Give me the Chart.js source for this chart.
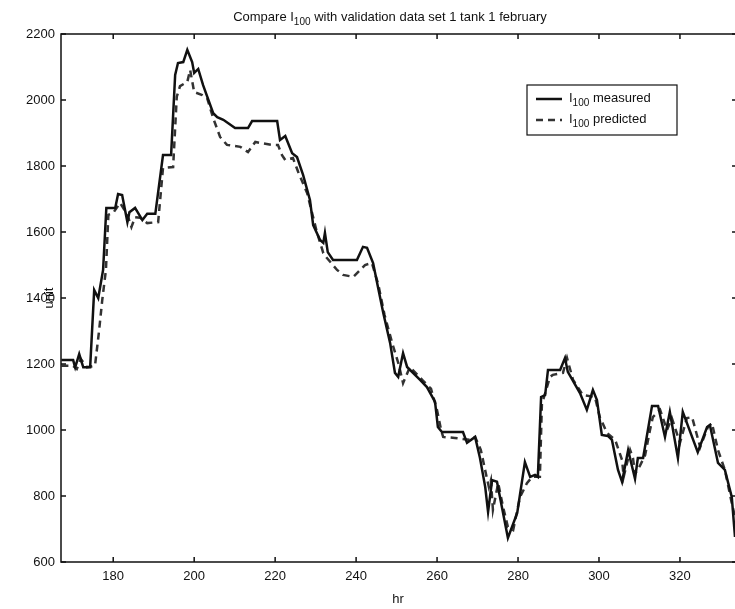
<!DOCTYPE html>
<html lang="en">
<head>
<meta charset="UTF-8" />
<title>Compare I100 with validation data</title>
<script src="https://cdn.jsdelivr.net/npm/chart.js"></script>
<style>
  body {
    margin: 0;
    background: #fff;
    overflow: hidden;
  }
  .wrap {
    position: relative;
    width: 735px;
    height: 609px;
  }
</style>
</head>
<body>
<div class="wrap"><canvas id="chart"></canvas></div>
<script>
// values (hr, unit)
const hrMeasured = [167.2,170.1,170.6,171.6,172.6,174.3,175.3,176.3,177.5,178.3,
  180.5,181.2,182.2,183.5,184.0,185.4,187.2,188.4,190.4,192.3,
  194.3,195.3,196.0,197.3,198.3,199.5,200.0,201.0,202.2,204.7,
  205.7,207.2,210.1,213.3,214.3,220.5,221.2,222.5,224.2,225.4,
  226.9,228.6,229.4,231.1,231.9,232.3,233.0,234.3,240.2,241.7,
  242.7,244.2,245.4,246.7,248.4,249.6,250.4,251.6,252.6,255.8,
  257.5,259.5,260.2,261.2,266.4,267.4,269.4,270.6,271.9,272.6,
  273.6,274.8,277.5,279.8,281.7,283.0,284.2,284.9,285.7,286.7,
  287.4,290.4,291.6,292.3,295.3,297.0,298.5,299.5,300.7,302.2,
  303.2,304.7,305.7,307.2,308.9,309.6,310.9,313.1,314.6,316.3,
  317.5,319.5,320.7,324.4,326.7,327.4,329.4,331.1,332.8,333.6];
const measured = [1212,1212,1190,1230,1190,1190,1424,1400,1485,1673,
  1673,1715,1712,1630,1660,1673,1636,1655,1655,1833,
  1833,2076,2112,2115,2152,2115,2082,2094,2045,1960,
  1948,1940,1915,1915,1936,1936,1879,1891,1839,1827,
  1773,1697,1621,1576,1567,1597,1539,1515,1515,1555,
  1552,1506,1433,1355,1264,1173,1161,1233,1191,1152,
  1130,1085,1009,994,994,961,979,915,827,752,
  848,843,673,749,903,858,864,858,1100,1106,
  1182,1182,1218,1176,1112,1061,1121,1091,985,982,
  970,879,843,939,852,915,915,1073,1073,979,
  1055,915,1055,933,1009,1015,900,879,797,676];

const hrPredicted = [167.2,170.0,171.0,172.0,173.5,175.5,176.5,177.3,178.2,178.8,
  180.0,181.7,183.5,184.5,185.4,186.7,188.4,191.1,192.3,194.8,
  195.7,196.5,198.3,199.0,200.0,202.0,203.2,204.7,206.4,208.1,
  211.4,213.3,215.1,216.3,219.3,220.7,221.7,222.5,224.4,225.7,
  227.9,230.3,231.9,232.6,235.3,236.8,239.3,241.0,242.2,243.9,
  245.5,247.0,249.0,250.5,251.6,253.3,256.5,258.5,260.0,261.0,
  261.5,264.4,268.1,269.4,270.8,272.2,272.8,273.3,273.8,275.1,
  276.3,277.5,278.8,280.5,282.2,283.5,285.4,285.9,287.9,288.6,
  291.1,292.1,293.6,296.0,299.0,300.2,302.0,304.0,305.7,306.1,
  307.7,308.4,308.9,310.1,311.4,312.6,313.3,315.1,316.8,318.0,
  320.0,321.7,323.0,325.0,326.9,327.9,329.4,331.1,332.8,333.6];
const predicted = [1195,1195,1185,1215,1190,1195,1300,1395,1485,1652,
  1658,1688,1652,1615,1645,1643,1627,1630,1794,1797,
  2010,2042,2055,2091,2024,2015,2006,1945,1888,1864,
  1858,1842,1873,1870,1864,1864,1833,1818,1824,1782,
  1718,1600,1536,1524,1485,1470,1464,1485,1500,1506,
  1440,1350,1260,1200,1142,1191,1150,1125,1060,1000,
  979,976,970,979,940,860,827,848,758,839,
  767,706,697,797,839,858,858,1079,1161,1167,
  1173,1218,1152,1106,1100,1039,991,970,909,858,
  939,915,867,891,924,1000,1039,1061,1000,1036,
  961,1036,1039,948,1009,1021,939,879,779,736];

const xTicks = [180, 200, 220, 240, 260, 280, 300, 320];
const yTicks = [600, 800, 1000, 1200, 1400, 1600, 1800, 2000, 2200];

const FONT = '"Liberation Sans", Arial, sans-serif';
const INK = '#111';

// text with a lowered small "100"
function drawRich(ctx, parts, x, y, align) {
  const big = '13px ' + FONT, small = '10px ' + FONT;
  let w = 0;
  parts.forEach(p => { ctx.font = p.sub ? small : big; w += ctx.measureText(p.t).width; });
  let cx = align === 'center' ? x - w / 2 : x;
  ctx.textAlign = 'left';
  ctx.textBaseline = 'alphabetic';
  parts.forEach(p => {
    ctx.font = p.sub ? small : big;
    ctx.fillText(p.t, cx, p.sub ? y + 4 : y);
    cx += ctx.measureText(p.t).width;
  });
}

const decorPlugin = {
  id: 'decor',
  afterDraw(chart) {
    const { ctx, chartArea: a, scales: { x, y } } = chart;
    ctx.save();
    ctx.strokeStyle = INK;
    ctx.fillStyle = INK;
    ctx.lineWidth = 1.5;

    // box (right side runs off the picture)
    ctx.beginPath();
    ctx.moveTo(a.right, a.top); ctx.lineTo(a.left, a.top);
    ctx.lineTo(a.left, a.bottom); ctx.lineTo(a.right, a.bottom);
    ctx.stroke();

    // inward ticks
    ctx.beginPath();
    xTicks.forEach(v => {
      const px = x.getPixelForValue(v);
      ctx.moveTo(px, a.bottom); ctx.lineTo(px, a.bottom - 5);
      ctx.moveTo(px, a.top); ctx.lineTo(px, a.top + 5);
    });
    yTicks.forEach(v => {
      const py = y.getPixelForValue(v);
      ctx.moveTo(a.left, py); ctx.lineTo(a.left + 5, py);
      ctx.moveTo(a.right, py); ctx.lineTo(a.right - 3, py);
    });
    ctx.stroke();

    // title
    drawRich(ctx, [{ t: 'Compare I' }, { t: '100', sub: true }, { t: ' with validation data set 1 tank 1 february' }], 390, 21, 'center');

    // y label
    ctx.save();
    ctx.translate(49, 298);
    ctx.rotate(-Math.PI / 2);
    ctx.font = '13px ' + FONT;
    ctx.textAlign = 'center';
    ctx.textBaseline = 'middle';
    ctx.fillText('unit', 0, 0);
    ctx.restore();

    // legend
    const lx = 527, ly = 85, lw = 150, lh = 50;
    ctx.fillStyle = '#fff';
    ctx.fillRect(lx, ly, lw, lh);
    ctx.lineWidth = 1.2;
    ctx.strokeRect(lx, ly, lw, lh);
    ctx.fillStyle = INK;
    chart.data.datasets.forEach((ds, i) => {
      const ry = ly + 14 + i * 21;
      ctx.beginPath();
      ctx.lineWidth = 2.5;
      ctx.strokeStyle = ds.borderColor;
      ctx.setLineDash(ds.borderDash || []);
      ctx.moveTo(lx + 9, ry); ctx.lineTo(lx + 35, ry);
      ctx.stroke();
      ctx.setLineDash([]);
      drawRich(ctx, [{ t: 'I' }, { t: '100', sub: true }, { t: ' ' + ds.label }], lx + 42, ry + 3, 'left');
    });
    ctx.restore();
  }
};

new Chart(document.getElementById('chart'), {
  type: 'line',
  data: {
    datasets: [
      {
        label: 'measured',
        data: hrMeasured.map((h, i) => ({ x: h, y: measured[i] })),
        borderColor: '#111',
        borderWidth: 2.5,
        pointRadius: 0,
        tension: 0
      },
      {
        label: 'predicted',
        data: hrPredicted.map((h, i) => ({ x: h, y: predicted[i] })),
        borderColor: '#333',
        borderWidth: 2.5,
        borderDash: [7, 5],
        pointRadius: 0,
        tension: 0
      }
    ]
  },
  options: {
    responsive: true,
    maintainAspectRatio: false,
    animation: false,
    layout: { padding: { top: 34, right: 0, left: 0, bottom: 0 } },
    plugins: {
      legend: { display: false },
      title: { display: false },
      tooltip: { enabled: false }
    },
    scales: {
      x: {
        type: 'linear',
        min: 167.1,
        max: 333.6,
        afterBuildTicks: s => { s.ticks = xTicks.map(v => ({ value: v })); },
        afterFit: s => { s.height = 47; },
        grid: { display: false, drawTicks: false },
        border: { display: false },
        ticks: { color: INK, font: { family: FONT, size: 13 }, padding: 7, maxRotation: 0, callback: v => String(v) },
        title: { display: true, text: 'hr', color: INK, font: { family: FONT, size: 13 }, padding: { top: 0, bottom: 2 } }
      },
      y: {
        min: 600,
        max: 2200,
        afterBuildTicks: s => { s.ticks = yTicks.map(v => ({ value: v })); },
        afterFit: s => { s.width = 61; },
        grid: { display: false, drawTicks: false },
        border: { display: false },
        ticks: { color: INK, font: { family: FONT, size: 13 }, padding: 6, callback: v => String(v) }
      }
    }
  },
  plugins: [decorPlugin]
});
</script>
</body>
</html>
